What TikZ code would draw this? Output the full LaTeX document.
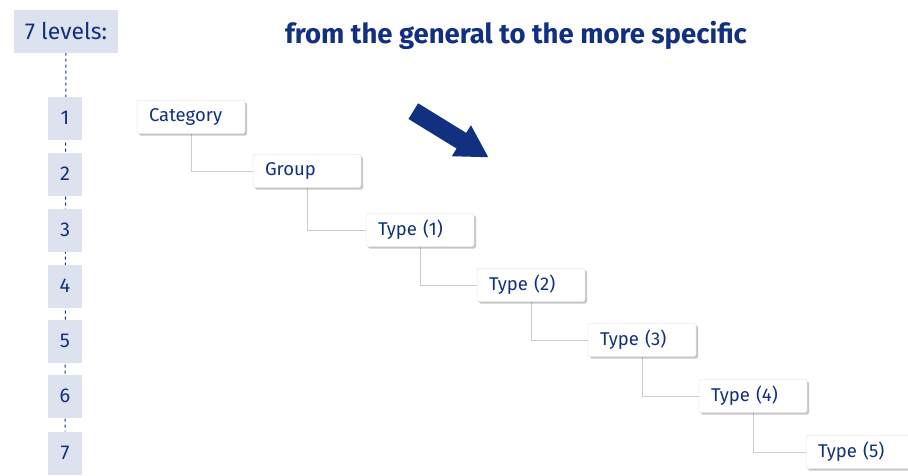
\documentclass[tikz,border=0pt]{standalone}
\usepackage{fontspec}
\setmainfont{Fira Sans}
\usetikzlibrary{shadows,shapes.arrows,backgrounds}
\definecolor{navy}{RGB}{18,48,128}
\definecolor{levelfill}{RGB}{220,227,238}
\tikzset{
  level/.style={fill=levelfill, text=navy, minimum width=34pt, minimum height=43pt,
    inner sep=0pt, font=\fontsize{20}{22}\selectfont},
  item/.style={draw=gray!25, fill=white, rounded corners=2pt, text=navy,
    minimum height=33pt, text width=84pt, inner xsep=12pt, align=left,
    font=\fontsize{18.5}{20}\selectfont,
    drop shadow={shadow xshift=2pt, shadow yshift=-2pt, opacity=0.45}},
  link/.style={draw=gray!40, line width=1pt}
}
\begin{document}
\begin{tikzpicture}[x=1pt, y=-1pt]
      \useasboundingbox (0,0) rectangle (908,475);
      \node[level, minimum width=104pt, font=\fontsize{23}{25}\selectfont] (levels) at (66,31) {7 levels:};
      \node[level] (l1) at (65,118) {1};
      \node[level] (l2) at (65,174) {2};
      \node[level] (l3) at (65,230) {3};
      \node[level] (l4) at (65,286) {4};
      \node[level] (l5) at (65,341) {5};
      \node[level] (l6) at (65,396) {6};
      \node[level] (l7) at (65,453) {7};
      \node[text=navy, font=\bfseries\fontsize{27.5}{30}\selectfont] (title) at (516,35)
        {from the general to the more specific};
      \node[single arrow, fill=navy, minimum height=88pt, inner sep=9pt,
        single arrow head extend=9pt, single arrow tip angle=60,
        rotate=-31.6] (arrow) at (444,130) {};
      \draw
        (191,117) node[item] (cat){Category}
        (307,171) node[item] (grp){Group}
        (420,230) node[item] (t1){Type (1)}
        (531,285) node[item] (t2){Type (2)}
        (642,340) node[item] (t3){Type (3)}
        (753,396) node[item] (t4){Type (4)}
        (860,452) node[item] (t5){Type (5)};
      \begin{scope}[on background layer]
        \draw[navy, dashed, line width=1pt] (levels) to (l7);
        \draw[link] (cat.south) |- (grp.west);
        \draw[link] (grp.south) |- (t1.west);
        \draw[link] (t1.south) |- (t2.west);
        \draw[link] (t2.south) |- (t3.west);
        \draw[link] (t3.south) |- (t4.west);
        \draw[link] (t4.south) |- (t5.west);
      \end{scope}
    \end{tikzpicture}
\end{document}
